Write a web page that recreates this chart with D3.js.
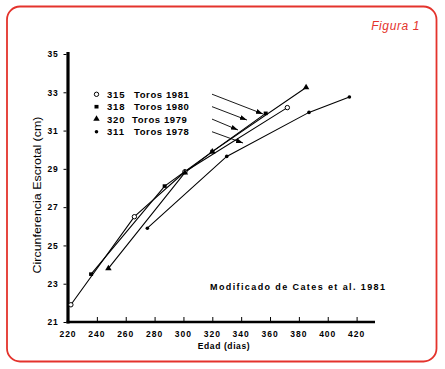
<!DOCTYPE html>
<html><head><meta charset="utf-8">
<script src="https://cdn.jsdelivr.net/npm/d3@7"></script>
<style>body{margin:0;background:#fff}svg{display:block}</style>
</head><body>
<svg id="c" width="445" height="369"></svg>
<script>
// ---- data ----
const xTicks = [220,240,260,280,300,320,340,360,380,400,420];
const yTicks = [21,23,25,27,29,31,33,35];
const s1981 = [[222,21.9],[266,26.5],[301,28.85],[372,32.2]];
const s1980 = [[236,23.5],[287,28.1],[320,29.9],[357,31.9]];
const s1979 = [[248,23.8],[301,28.8],[320,29.9],[385,33.25]];
const s1978 = [[275,25.9],[330,29.65],[387,31.95],[415,32.75]];
const seriesNames = ["315","318","320","311"];
const seriesLabels = ["Toros 1981","Toros 1980","Toros 1979","Toros 1978"];
const seriesShapes = ["openCircle","square","triangle","dot"];
// arrows in data units: [x0,y0,x1,y1]
const arrows = [[319.8,32.9,355.1,31.87],[319.8,32.25,344.0,31.55],[319.8,31.6,337.8,31.03],[319.8,30.94,341.3,30.35]];

const svg = d3.select("#c");
const red = "#e4332c";
svg.append("rect").attr("x",7).attr("y",6.5).attr("width",429.5).attr("height",355)
  .attr("rx",13).attr("fill","none").attr("stroke",red).attr("stroke-width",1.8);
svg.append("text").attr("x",420).attr("y",30).attr("text-anchor","end")
  .attr("font-family","Liberation Sans, Arial").attr("font-style","italic").attr("font-size",12)
  .attr("fill",red).attr("letter-spacing",0.6).text("Figura 1");

const x = d3.scaleLinear().domain([220,420]).range([68,356.6]);
const y = d3.scaleLinear().domain([21,35]).range([322,54]);

// axes lines
svg.append("line").attr("x1",x(220)).attr("x2",x(220)).attr("y1",52).attr("y2",323.5)
  .attr("stroke","#000").attr("stroke-width",3.2);
svg.append("line").attr("x1",66.5).attr("x2",375).attr("y1",y(21)).attr("y2",y(21))
  .attr("stroke","#000").attr("stroke-width",2.4);

const font = "Liberation Sans, Arial, sans-serif";
// y ticks
const yAxis = d3.axisLeft(y).tickValues(yTicks).tickSize(3).tickPadding(5).tickFormat(d3.format("d"));
const gy = svg.append("g").attr("transform",`translate(${x(220)-1.5},0)`).call(yAxis);
gy.select(".domain").remove();
gy.selectAll("text").attr("font-family",font).attr("font-weight","bold").attr("font-size",8.5).attr("letter-spacing",0.8);
// x ticks inward
const xAxis = d3.axisTop(x).tickValues(xTicks).tickSize(4).tickFormat("");
const gx = svg.append("g").attr("transform",`translate(0,${y(21)-1})`).call(xAxis);
gx.select(".domain").remove();
gx.selectAll("line").attr("stroke-width",1);
svg.append("g").selectAll("text").data(xTicks).join("text")
  .attr("x",d=>x(d)).attr("y",337).attr("text-anchor","middle")
  .attr("font-family",font).attr("font-weight","bold").attr("font-size",8.5).attr("letter-spacing",1)
  .text(d=>d);

svg.append("text").attr("x",224).attr("y",349).attr("text-anchor","middle")
  .attr("font-family",font).attr("font-weight","bold").attr("font-size",8.5).attr("letter-spacing",0.6)
  .text("Edad (dias)");
svg.append("text").attr("transform","translate(41,195) rotate(-90)").attr("text-anchor","middle")
  .attr("font-family",font).attr("font-size",11.5).attr("textLength",157).attr("lengthAdjust","spacingAndGlyphs")
  .text("Circunferencia Escrotal (cm)");
svg.append("text").attr("x",210).attr("y",290)
  .attr("font-family",font).attr("font-weight","bold").attr("font-size",9)
  .attr("textLength",175).attr("lengthAdjust","spacing")
  .text("Modificado de Cates et al. 1981");

// series
const all = [s1981,s1980,s1979,s1978];
const line = d3.line().x(d=>x(d[0])).y(d=>y(d[1]));
all.forEach(s=>{
  svg.append("path").attr("d",line(s)).attr("fill","none").attr("stroke","#000").attr("stroke-width",1.1);
});
function marker(g, shape, cx, cy){
  if(shape==="openCircle") g.append("circle").attr("cx",cx).attr("cy",cy).attr("r",2.2).attr("fill","#fff").attr("stroke","#000").attr("stroke-width",1);
  else if(shape==="square") g.append("rect").attr("x",cx-2).attr("y",cy-1.8).attr("width",4).attr("height",3.6).attr("fill","#000");
  else if(shape==="triangle") g.append("path").attr("d",d3.symbol(d3.symbolTriangle,18)()).attr("transform",`translate(${cx},${cy})`).attr("fill","#000");
  else g.append("circle").attr("cx",cx).attr("cy",cy).attr("r",1.8).attr("fill","#000");
}
const mg = svg.append("g");
all.forEach((s,i)=>s.forEach(d=>marker(mg,seriesShapes[i],x(d[0]),y(d[1]))));

// legend
const ly = [94.3,106.7,119,131.7];
seriesNames.forEach((n,i)=>{
  marker(svg,seriesShapes[i],96.5,ly[i]);
  svg.append("text").attr("x",107).attr("y",ly[i]+3.6).attr("font-family",font).attr("font-weight","bold")
    .attr("font-size",9.5).attr("letter-spacing",0.8).text(n);
  svg.append("text").attr("x",i===2?132:134).attr("y",ly[i]+3.6).attr("font-family",font).attr("font-weight","bold")
    .attr("font-size",9.5).attr("letter-spacing",0.6).text(seriesLabels[i]);
});

// arrows
const defs = svg.append("defs");
defs.append("marker").attr("id","ah").attr("viewBox","0 0 10 10").attr("refX",10).attr("refY",5)
  .attr("markerWidth",7).attr("markerHeight",7).attr("markerUnits","userSpaceOnUse").attr("orient","auto")
  .append("path").attr("d","M0,1.5L10,5L0,8.5Z").attr("fill","#000");
arrows.forEach(a=>{
  svg.append("line").attr("x1",x(a[0])).attr("y1",y(a[1])).attr("x2",x(a[2])).attr("y2",y(a[3]))
    .attr("stroke","#000").attr("stroke-width",0.9).attr("marker-end","url(#ah)");
});
</script>
</body></html>
